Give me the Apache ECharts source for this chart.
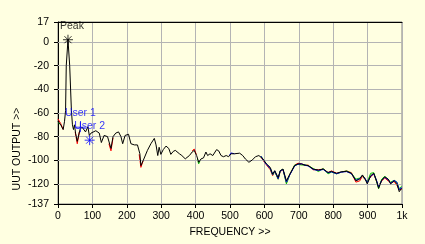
<!DOCTYPE html>
<html><head><meta charset="utf-8">
<script src="https://cdn.jsdelivr.net/npm/echarts@6/dist/echarts.min.js"></script>
<style>html,body{margin:0;padding:0;background:#FFFFE1;}#c{width:425px;height:244px;}</style>
</head><body><div id="c"></div>
<script>
// Main spectrum trace (black): frequency (Hz) and level (dB)
const freqHz = [0,8,15,19,22,24,29,34,39,42,45,48,51,56,64,70,74,80,87,91,96,100,110,120,126,134,144,154,160,168,176,183,188,195,205,212,222,231,238,241,248,260,270,280,285,290,294,299,306,314,322,328,335,341,353,360,370,382,390,396,403,409,416,423,430,435,442,450,461,467,474,481,489,496,503,513,528,537,545,555,565,574,584,596,606,617,624,630,640,646,654,664,674,688,698,708,718,727,742,757,771,785,795,810,824,839,853,866,877,885,893,899,909,918,926,932,941,950,960,967,977,985,992,999];
const levelDb = [-67,-70,-74,-67,-58,-20,2,-20,-58,-70,-74,-70,-77,-84,-74,-72,-73,-76,-71.6,-79,-77,-77,-75,-77,-85,-79,-80,-90,-80,-77,-76,-80,-86,-79,-78,-86,-87,-87,-94.5,-104.5,-100,-91.6,-86,-81.5,-87,-96,-89,-95,-91,-88,-90,-95,-92.5,-91.6,-94.5,-96,-98.8,-96,-93,-91.6,-96,-101.7,-98.8,-98,-93,-96,-94.5,-96,-91,-92,-96,-97,-96,-97,-94.5,-94.5,-94,-96,-99,-101.7,-99.7,-97,-96,-99,-103,-106,-111.7,-108.8,-114.6,-108.8,-107.4,-117.4,-111.7,-104.5,-103,-103.2,-104,-104.5,-107.4,-108.3,-107.4,-110.3,-109.4,-111,-109.7,-109.4,-111,-117.4,-116,-112.4,-116,-120,-113,-111,-117.4,-123.7,-116.8,-114,-116,-120,-117.4,-119.7,-126.6,-123.7];

// Other traces that peek out from under the black one
const redHz = [0,8,15,'-',50,56,62,'-',148,154,160,'-',236,241,248,'-',390,396,402,'-',590,596,606,617,624,630,640,646,654,664,674,688,698,708,718,727,742,757,771,785,795,810,824,839,853,866,877,885,893,899,909,918,926,932,941,950,960,967,977,985,992,999];
const redDb = [-65,-69,-74,'-',-76,-86,-76,'-',-86,-92,-81,'-',-95,-106,-100,'-',-92,-90.5,-95,'-',-97,-100,-104,-108,-113,-109.5,-116,-109.5,-108,-119,-112,-104,-102.5,-103,-104.5,-104,-108,-108,-107.5,-110.5,-109,-111,-110,-109,-110.5,-118.5,-117.5,-113.5,-116.5,-118,-114,-111.5,-118,-122,-117.5,-115,-117.5,-119,-118,-121,-125,-124.5];
const greenHz = [0,8,'-',405,409,414,'-',590,596,606,617,624,630,640,646,654,664,674,688,698,708,718,727,742,757,771,785,795,810,824,839,853,866,877,885,893,899,909,918,926,932,941,950,960,967,977,985,992,999];
const greenDb = [-68,-70,'-',-99,-103,-99.5,'-',-96.5,-99,-103.5,-107,-112.5,-109.5,-116,-109,-107.5,-120,-112,-104,-103.5,-104,-104,-104.5,-107,-109.5,-107,-111.5,-110,-111.5,-110,-109,-111,-116,-115,-113,-116,-118.5,-111,-110.5,-118,-124,-116,-113.5,-116.5,-118.5,-117,-118.5,-124,-122];
const blueHz = [498,503,513,'-',590,596,606,617,624,630,640,646,654,664,674,688,698,708,718,727,742,757,771,785,795,810,824,839,853,866,877,885,893,899,909,918,926,932,941,950,960,967,977,985,992,999];
const blueDb = [-96,-93.8,-94.5,'-',-96.5,-99.5,-103.5,-107,-112,-109,-115.5,-109,-107.8,-118.5,-112.3,-104.8,-103.3,-103,-104.2,-104.8,-107.8,-108.6,-107.8,-110.6,-109.8,-111.4,-110,-109.6,-111.4,-117,-115.5,-112.8,-115.5,-119,-113.5,-111.5,-117,-122.5,-117,-114.5,-116.5,-119.5,-117,-118.5,-125,-123];

// Cursors
const cursorNames = ['Peak','User 1','User 2'];
const cursorHz = [29, 65, 92];
const cursorDb = [2, -72, -83];

// Axes
const yTicks = [17,0,-20,-40,-60,-80,-100,-120,-137];
const yGrid = [0,-20,-40,-60,-80,-100,-120];
const xTicks = [0,100,200,300,400,500,600,700,800,900,1000];
const xTickLabels = ['0','100','200','300','400','500','600','700','800','900','1k'];

const pairs = (xs, ys) => xs.map((x, i) => x === '-' ? ['-','-'] : [x, ys[i]]);
const FONT = 'Liberation Sans';
const FS = 10.5;
const starPath = 'path://M0,-5L0,5M-5,0L5,0M-3.5,-3.5L3.5,3.5M-3.5,3.5L3.5,-3.5';
const plusPath = 'path://M0,-5L0,5M-6,0L6,0';
const cursorSymbols = [starPath, plusPath, starPath];
const cursorColors = ['#000000', '#0000FF', '#0000FF'];
const labelOffsets = [[4, 0], [0, 0], [0, 0]];

const chart = echarts.init(document.getElementById('c'), null, {renderer: 'canvas'});
const traceSeries = (name, data, color, z) => ({
  name, type: 'line', data, showSymbol: false, symbol: 'none', animation: false,
  connectNulls: false, lineStyle: {color, width: 1}, z
});
chart.setOption({
  backgroundColor: '#FFFFE1',
  animation: false,
  grid: {left: 58, right: 23, top: 22, bottom: 40, show: true, borderColor: '#808080', borderWidth: 1, backgroundColor: 'transparent'},
  xAxis: [{
    type: 'value', min: 0, max: 1000, interval: 100,
    name: 'FREQUENCY >>', nameLocation: 'middle', nameGap: 22,
    nameTextStyle: {color: '#000', fontFamily: FONT, fontSize: FS},
    axisLine: {show: true, onZero: false, lineStyle: {color: '#000', width: 1}},
    axisTick: {show: true, length: 4, lineStyle: {color: '#000'}},
    axisLabel: {color: '#000', fontFamily: FONT, fontSize: FS, margin: 7,
      customValues: xTicks, formatter: v => xTickLabels[xTicks.indexOf(v)] ?? ''},
    splitLine: {show: true, lineStyle: {color: '#B4B4B4', width: 1}}
  }, {
    type: 'value', min: 0, max: 1000, position: 'top',
    axisLine: {show: true, onZero: false, lineStyle: {color: '#000', width: 1}},
    axisTick: {show: false}, axisLabel: {show: false}, splitLine: {show: false}
  }],
  yAxis: [{
    type: 'value', min: -137, max: 17,
    axisLine: {show: true, onZero: false, lineStyle: {color: '#000', width: 1}},
    axisTick: {show: true, length: 4, customValues: yTicks, lineStyle: {color: '#000'}},
    axisLabel: {color: '#000', fontFamily: FONT, fontSize: FS, margin: 9, customValues: yTicks},
    splitLine: {show: false}
  }],
  graphic: [{
    type: 'text', x: 17, y: 149, rotation: Math.PI / 2,
    style: {text: 'UUT OUTPUT >>', fill: '#000', font: FS + 'px "Liberation Sans"', align: 'center', verticalAlign: 'middle'}
  }],
  series: [
    {
      type: 'line', data: [], z: 1, silent: true, animation: false,
      markLine: {
        silent: true, symbol: 'none', animation: false, label: {show: false},
        lineStyle: {color: '#B4B4B4', width: 1, type: 'solid'},
        data: yGrid.map(v => ({yAxis: v}))
      }
    },
    traceSeries('red', pairs(redHz, redDb), '#FF0000', 2),
    traceSeries('green', pairs(greenHz, greenDb), '#00C000', 3),
    traceSeries('blue', pairs(blueHz, blueDb), '#0000FF', 4),
    traceSeries('main', pairs(freqHz, levelDb), '#000000', 5),
    {
      type: 'scatter', z: 10, animation: false,
      data: cursorNames.map((n, i) => ({
        name: n, value: [cursorHz[i], cursorDb[i]], symbol: cursorSymbols[i], symbolSize: 10,
        itemStyle: {color: 'transparent', borderColor: cursorColors[i], borderWidth: 1},
        label: {show: true, position: 'top', distance: 3, offset: labelOffsets[i], formatter: n, color: cursorColors[i], fontFamily: FONT, fontSize: FS}
      }))
    }
  ]
});
</script></body></html>
